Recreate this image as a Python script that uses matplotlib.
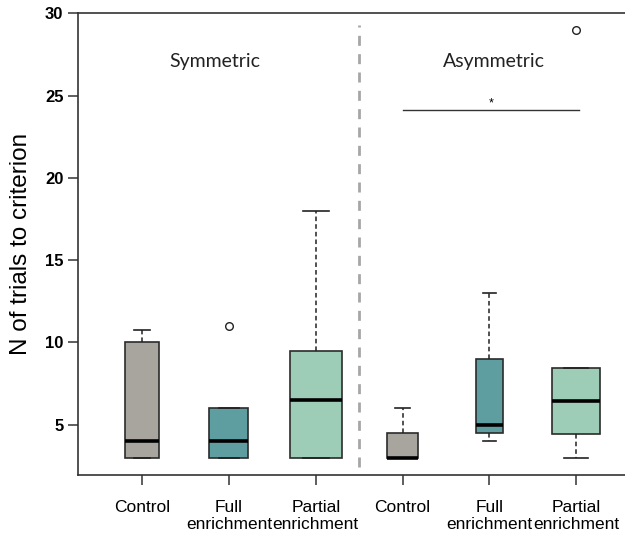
import numpy as np
import matplotlib.pyplot as plt

# ------------------------------------------------------------------
# Data
# ------------------------------------------------------------------
groups = ['Symmetric', 'Asymmetric']
tick_labels = ['Control', 'Full\nenrichment', 'Partial\nenrichment',
               'Control', 'Full\nenrichment', 'Partial\nenrichment']
q1 = [3.0, 3.0, 3.0, 3.0, 4.5, 4.43]
medians = [4.0, 4.0, 6.5, 3.0, 5.0, 6.45]
q3 = [10.0, 6.0, 9.5, 4.5, 9.0, 8.43]
whisk_lo = [3.0, 3.0, 3.0, 3.0, 4.0, 3.0]
whisk_hi = [10.75, 6.0, 18.0, 6.0, 13.0, 8.43]
outliers = [[], [11.0], [], [], [], [29.0]]
sig_pair = (4, 6)
sig_y = 24.1

plt.rcParams.update({
    'font.family': ['Liberation Sans', 'DejaVu Sans'],
})

fill_colors = ['#a8a59e', '#5f9ea0', '#9dcdb7'] * 2
box_widths = np.array([0.39, 0.45, 0.60, 0.35, 0.30, 0.55])
positions = np.arange(1, len(tick_labels) + 1)

fig = plt.figure(figsize=(6.25, 5.36), dpi=100)
ax = fig.add_axes([0.1248, 0.1138, 0.8752, 0.8614])

stats = []
for i in range(len(tick_labels)):
    stats.append({
        'med': medians[i], 'q1': q1[i], 'q3': q3[i],
        'whislo': whisk_lo[i], 'whishi': whisk_hi[i],
        'fliers': outliers[i],
    })

bp = ax.bxp(stats, positions=positions, widths=box_widths,
            capwidths=box_widths * 0.5, patch_artist=True,
            boxprops=dict(edgecolor='#2b2b2b', linewidth=1.2),
            medianprops=dict(color='black', linewidth=2.6),
            whiskerprops=dict(color='#222222', linewidth=1.1, linestyle=(0, (3, 2))),
            capprops=dict(color='#222222', linewidth=1.2),
            flierprops=dict(marker='o', markerfacecolor='white',
                            markeredgecolor='#222222', markersize=5.5,
                            markeredgewidth=1.0))
for patch, col in zip(bp['boxes'], fill_colors):
    patch.set_facecolor(col)

# divider between the two conditions
ax.plot([3.5, 3.5], [2.45, 29.3], color='#a6a6a6', linewidth=2,
        linestyle=(0, (3.6, 3.0)))

# group titles
ax.text(1.84, 27.1, groups[0], ha='center', va='center', fontsize=14,
        family=['Lato', 'DejaVu Sans'], color='#222222')
ax.text(5.05, 27.1, groups[1], ha='center', va='center', fontsize=14,
        family=['Lato', 'DejaVu Sans'], color='#222222')

# significance bar
ax.plot([sig_pair[0], sig_pair[1] + 0.03], [sig_y, sig_y], color='#333333',
        linewidth=1.0)
ax.text((sig_pair[0] + sig_pair[1]) / 2 + 0.02, sig_y + 0.05, '*', ha='center',
        va='bottom', fontsize=9)

ax.set_xlim(0.263, 6.56)
ax.set_ylim(1.95, 30)
ax.set_xticks(positions)
ax.set_xticklabels(tick_labels, fontsize=12.5, linespacing=1.15)
ax.set_yticks([5, 10, 15, 20, 25, 30])
ax.set_yticklabels(['5', '10', '15', '20', '25', '30'], fontsize=12,
                   fontweight='bold')
ax.tick_params(axis='both', direction='out', length=7, width=1.1,
               color='#333333')
ax.tick_params(axis='x', pad=11)
ax.set_ylabel('N of trials to criterion', fontsize=17.5, labelpad=9)

ax.spines['right'].set_visible(False)
for s in ['left', 'top', 'bottom']:
    ax.spines[s].set_linewidth(1.2)
    ax.spines[s].set_color('#333333')

fig.savefig('out.png', dpi=100, facecolor='white')
